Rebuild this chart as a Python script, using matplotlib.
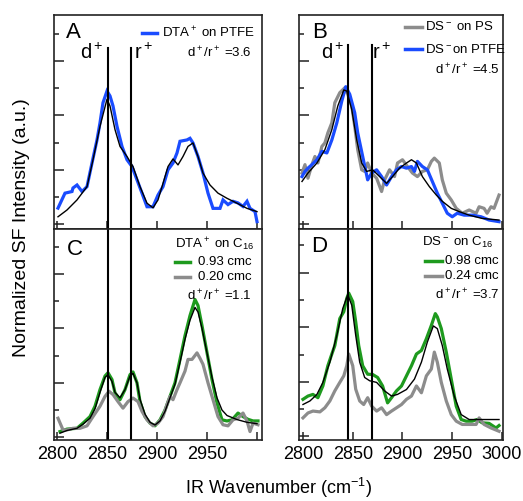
import matplotlib
matplotlib.use("Agg")
import matplotlib.pyplot as plt
from matplotlib.ticker import MultipleLocator

plt.rcParams['font.family'] = ['Liberation Sans', 'DejaVu Sans']
plt.rcParams['mathtext.fontset'] = 'custom'
plt.rcParams['mathtext.rm'] = 'Liberation Sans'
plt.rcParams['mathtext.it'] = 'Liberation Sans:italic'
plt.rcParams['mathtext.bf'] = 'Liberation Sans:bold'

NARROW = ['Liberation Sans Narrow', 'Liberation Sans', 'DejaVu Sans']

# ---------------- Panel A: DTA+ on PTFE ----------------
a_blue_x = [2801, 2808, 2815, 2816, 2820, 2825, 2830, 2835, 2840, 2843, 2846, 2850, 2853, 2856, 2860,
            2865, 2870, 2875, 2880, 2885, 2890, 2896, 2901, 2906, 2911, 2916, 2920, 2923, 2930, 2933,
            2936, 2941, 2946, 2951, 2956, 2963, 2966, 2971, 2976, 2981, 2986, 2990, 2993, 2998, 3000]
a_blue_y = [0.59, 1.14, 1.2, 1.33, 1.44, 1.2, 1.38, 2.25, 3.1, 3.73, 4.47, 4.9, 4.72, 4.35, 3.6,
            2.86, 2.37, 2.12, 1.63, 1.14, 0.64, 0.64, 1.07, 1.38, 2.0, 2.25, 2.62, 3.05, 3.1, 3.16,
            2.99, 2.49, 1.88, 1.14, 0.58, 0.58, 0.89, 0.72, 0.84, 0.78, 0.65, 0.84, 0.58, 0.46, 0.09]
a_fit_x = [2801, 2810, 2820, 2830, 2836, 2843, 2850, 2853, 2858, 2863, 2870, 2876, 2883, 2890, 2896,
           2901, 2906, 2911, 2916, 2921, 2926, 2931, 2936, 2941, 2946, 2953, 2961, 2970, 2980, 2990, 3000]
a_fit_y = [0.27, 0.52, 0.89, 1.38, 2.37, 3.6, 4.6, 4.35, 3.48, 2.86, 2.49, 2.12, 1.38, 0.77, 0.6,
           0.89, 1.5, 2.12, 2.4, 2.18, 2.49, 2.86, 2.99, 2.49, 1.88, 1.44, 1.14, 0.95, 0.77, 0.58, 0.46]

# ---------------- Panel B: DS- on PS / PTFE ----------------
b_blue_x = [2799, 2802, 2805, 2809, 2814, 2819, 2824, 2829, 2834, 2839, 2843, 2847, 2852, 2855, 2860,
            2865, 2869, 2874, 2879, 2884, 2889, 2894, 2899, 2904, 2909, 2912, 2915, 2920, 2925, 2930,
            2935, 2940, 2945, 2950, 2955, 2962, 2970, 2979, 2987, 2997]
b_blue_y = [1.75, 1.94, 2.06, 2.19, 2.37, 2.68, 2.62, 3.1, 3.73, 4.53, 5.06, 4.78, 4.1, 3.36, 2.49,
            1.63, 1.88, 2.0, 1.75, 1.44, 1.75, 2.0, 2.12, 2.06, 2.12, 1.94, 2.31, 2.12, 2.0, 1.57,
            1.14, 0.77, 0.4, 0.27, 0.4, 0.33, 0.33, 0.27, 0.15, 0.09]
b_gray_x = [2799, 2802, 2805, 2809, 2812, 2815, 2819, 2822, 2825, 2829, 2832, 2837, 2842, 2845, 2849,
            2852, 2855, 2859, 2862, 2865, 2869, 2874, 2879, 2882, 2887, 2892, 2895, 2900, 2905, 2910,
            2915, 2920, 2925, 2929, 2932, 2937, 2940, 2944, 2949, 2954, 2960, 2967, 2974, 2977, 2982,
            2985, 2989, 2992, 2997]
b_gray_y = [1.88, 2.19, 1.69, 2.19, 2.49, 2.25, 2.86, 2.99, 3.36, 3.73, 4.47, 4.84, 5.02, 4.78, 4.35,
            3.6, 2.74, 2.0, 1.94, 2.25, 1.88, 1.69, 1.2, 1.63, 2.0, 1.75, 2.25, 2.37, 2.12, 1.88,
            1.75, 1.94, 2.0, 2.31, 2.43, 2.25, 1.63, 1.14, 0.89, 0.58, 0.4, 0.52, 0.4, 0.64, 0.58,
            0.4, 0.64, 0.58, 1.07]
b_fit_x = [2799, 2805, 2814, 2822, 2829, 2835, 2841, 2844, 2849, 2854, 2859, 2864, 2870, 2877, 2884,
           2890, 2897, 2904, 2909, 2914, 2920, 2927, 2934, 2940, 2949, 2957, 2967, 2980, 2997]
b_fit_y = [1.57, 1.88, 2.25, 2.74, 3.48, 4.35, 4.94, 4.9, 4.22, 3.1, 2.25, 1.94, 2.0, 1.75, 1.5,
           1.75, 2.06, 2.25, 2.37, 2.25, 1.75, 1.38, 1.07, 0.84, 0.58, 0.46, 0.33, 0.21, 0.15]

# ---------------- Panel C: DTA+ on C16 ----------------
c_green_x = [2803, 2810, 2820, 2826, 2833, 2838, 2843, 2848, 2851, 2855, 2858, 2863, 2868, 2873, 2876,
             2880, 2883, 2888, 2893, 2898, 2903, 2908, 2913, 2918, 2923, 2928, 2933, 2938, 2941, 2945,
             2950, 2955, 2960, 2965, 2970, 2975, 2981, 2986, 2991, 2996, 3001]
c_green_y = [0.21, 0.3, 0.33, 0.52, 0.76, 1.14, 1.75, 2.25, 2.37, 2.12, 1.63, 1.38, 1.75, 2.3, 2.4,
             2.0, 1.31, 0.76, 0.52, 0.42, 0.64, 1.0, 1.5, 2.0, 2.86, 3.73, 4.47, 5.06, 4.84, 4.1,
             3.11, 2.12, 1.26, 0.64, 0.6, 0.64, 0.89, 0.76, 0.66, 0.6, 0.6]
c_gray_x = [2801, 2806, 2810, 2816, 2823, 2830, 2836, 2843, 2848, 2852, 2856, 2861, 2866, 2871, 2876,
            2881, 2885, 2890, 2896, 2901, 2906, 2910, 2913, 2916, 2920, 2923, 2928, 2931, 2935, 2940,
            2943, 2946, 2951, 2956, 2961, 2966, 2971, 2976, 2981, 2986, 2990, 2993, 2996, 3001]
c_gray_y = [0.7, 0.27, 0.27, 0.33, 0.33, 0.42, 0.76, 1.14, 1.5, 1.69, 1.57, 1.31, 1.07, 1.31, 1.44,
            1.31, 0.95, 0.64, 0.42, 0.52, 0.76, 1.2, 1.5, 1.38, 1.75, 2.0, 2.43, 2.86, 2.86, 3.1,
            2.9, 2.68, 2.0, 1.38, 0.76, 0.46, 0.42, 0.64, 0.7, 0.89, 0.6, 0.21, 0.52, 0.46]
c_fit_x = [2803, 2810, 2820, 2826, 2833, 2838, 2843, 2848, 2851, 2855, 2858, 2863, 2868, 2873, 2876,
           2880, 2883, 2888, 2893, 2898, 2903, 2908, 2913, 2918, 2923, 2928, 2933, 2938, 2941, 2945,
           2950, 2955, 2960, 2965, 2970, 2980, 2990, 3000]
c_fit_y = [0.15, 0.25, 0.33, 0.48, 0.7, 1.05, 1.65, 2.2, 2.3, 2.05, 1.65, 1.45, 1.75, 2.25, 2.35,
           2.0, 1.4, 0.85, 0.55, 0.45, 0.6, 0.95, 1.45, 1.95, 2.75, 3.6, 4.3, 4.77, 4.6, 4.0,
           3.1, 2.2, 1.45, 1.0, 0.8, 0.65, 0.55, 0.5]

# ---------------- Panel D: DS- on C16 ----------------
d_green_x = [2800, 2805, 2810, 2815, 2820, 2825, 2829, 2832, 2837, 2841, 2844, 2846, 2850, 2853, 2856,
             2860, 2865, 2870, 2875, 2880, 2885, 2889, 2894, 2899, 2904, 2909, 2914, 2919, 2924, 2929,
             2933, 2935, 2939, 2944, 2949, 2954, 2959, 2964, 2970, 2975, 2980, 2987, 2994, 2997]
d_green_y = [1.36, 1.48, 1.54, 1.42, 1.85, 2.59, 3.02, 3.33, 4.32, 4.57, 5.06, 5.25, 4.94, 4.2, 3.33,
             2.59, 2.28, 2.27, 2.16, 1.85, 1.23, 1.42, 1.67, 1.85, 2.22, 2.59, 3.02, 3.15, 3.58, 4.07,
             4.5, 4.38, 3.95, 3.09, 2.1, 1.11, 0.62, 0.56, 0.56, 0.62, 0.5, 0.48, 0.31, 0.4]
d_gray_x = [2800, 2805, 2810, 2817, 2822, 2827, 2832, 2837, 2841, 2844, 2846, 2850, 2853, 2857, 2861,
            2865, 2869, 2874, 2879, 2884, 2889, 2894, 2899, 2904, 2909, 2914, 2919, 2924, 2929, 2932,
            2935, 2939, 2944, 2949, 2954, 2960, 2967, 2974, 2977, 2982, 2989, 2997]
d_gray_y = [0.68, 0.86, 0.93, 0.9, 1.05, 1.3, 1.67, 1.98, 2.22, 2.59, 3.02, 2.59, 1.73, 1.3, 1.17,
            1.42, 1.11, 0.93, 1.05, 0.8, 0.93, 1.05, 1.17, 1.36, 1.48, 1.85, 1.6, 2.22, 2.47, 3.09,
            2.72, 1.98, 1.3, 0.8, 0.56, 0.44, 0.44, 0.44, 0.68, 0.44, 0.31, 0.19]
d_fit_x = [2800, 2807, 2814, 2820, 2827, 2834, 2840, 2845, 2849, 2853, 2857, 2862, 2867, 2874, 2882,
           2889, 2895, 2904, 2912, 2919, 2925, 2931, 2935, 2940, 2945, 2952, 2959, 2967, 2980, 2997]
d_fit_y = [1.17, 1.3, 1.54, 1.98, 2.72, 3.7, 4.69, 5.19, 4.81, 3.7, 2.72, 2.16, 2.04, 1.98, 1.67,
           1.48, 1.54, 1.72, 2.1, 2.72, 3.46, 4.05, 3.95, 3.33, 2.47, 1.48, 0.8, 0.62, 0.62, 0.62]

# peak markers (d+, r+)
ac_lines = [2851, 2874]
bd_lines = [2845, 2869]

xticks = [2800, 2850, 2900, 2950, 3000]
xticklabels_left = ['2800', '2850', '2900', '2950', '']
xticklabels_right = ['2800', '2850', '2900', '2950', '3000']

BLUE = '#1a4cff'
GREEN = '#1e9a1e'
GRAY = '#8c8c8c'

fig = plt.figure(figsize=(5.23, 5.01), dpi=100)
W, H = 523.0, 501.0


def make_ax(l, t, r, b):
    return fig.add_axes([l / W, 1 - b / H, (r - l) / W, (b - t) / H])


axA = make_ax(54, 15, 262, 229)
axB = make_ax(299, 15, 503, 229)
axC = make_ax(54, 229, 262, 440)
axD = make_ax(299, 229, 503, 440)

for ax in (axA, axB, axC, axD):
    for s in ax.spines.values():
        s.set_linewidth(1.2)
        s.set_color('#222222')
    ax.set_xticks(xticks)
    ax.yaxis.set_major_locator(MultipleLocator(2))
    ax.yaxis.set_minor_locator(MultipleLocator(1))
    ax.tick_params(axis='x', which='major', direction='in', length=6, width=1.1,
                   labelsize=13, pad=4, colors='#222222', labelcolor='black')
    ax.tick_params(axis='y', which='major', direction='in', length=7.5, width=1.1, labelleft=False,
                   colors='#222222')
    ax.tick_params(axis='y', which='minor', direction='in', length=3.8, width=1.1, colors='#222222')
    ax.tick_params(axis='x', which='minor', bottom=False)

axA.set_xlim(2797, 3005)
axC.set_xlim(2797, 3005)
axB.set_xlim(2796, 3001)
axD.set_xlim(2796, 3001)
axA.set_ylim(-0.18, 7.7)
axB.set_ylim(-0.18, 7.7)
axC.set_ylim(-0.1, 7.65)
axD.set_ylim(-0.13, 7.6)

axA.set_xticklabels([])
axB.set_xticklabels([])
axC.set_xticklabels(xticklabels_left)
axD.set_xticklabels(xticklabels_right)
for ax in (axC, axD):
    for lab in ax.get_xticklabels():
        lab.set_family(NARROW)

# data
axA.plot(a_blue_x, a_blue_y, color=BLUE, lw=2.3, solid_joinstyle='miter')
axA.plot(a_fit_x, a_fit_y, color='black', lw=1.0)

axB.plot(b_gray_x, b_gray_y, color=GRAY, lw=2.3)
axB.plot(b_blue_x, b_blue_y, color=BLUE, lw=2.3)
axB.plot(b_fit_x, b_fit_y, color='black', lw=1.0)

axC.plot(c_green_x, c_green_y, color=GREEN, lw=2.3)
axC.plot(c_gray_x, c_gray_y, color=GRAY, lw=2.3)
axC.plot(c_fit_x, c_fit_y, color='black', lw=1.0)

axD.plot(d_green_x, d_green_y, color=GREEN, lw=2.3)
axD.plot(d_gray_x, d_gray_y, color=GRAY, lw=2.3)
axD.plot(d_fit_x, d_fit_y, color='black', lw=1.0)

# vertical reference lines
for xv in ac_lines:
    axA.plot([xv, xv], [-0.18, 6.5], color='black', lw=1.5)
    axC.axvline(xv, color='black', lw=1.5)
for xv in bd_lines:
    axB.plot([xv, xv], [-0.18, 6.6], color='black', lw=1.5)
    axD.axvline(xv, color='black', lw=1.5)

# d+ / r+ labels
axA.text(2835, 6.3, 'd$^+$', fontsize=14.5, ha='center', va='center')
axA.text(2886, 6.3, 'r$^+$', fontsize=14.5, ha='center', va='center')
axB.text(2830, 6.3, 'd$^+$', fontsize=14.5, ha='center', va='center')
axB.text(2879, 6.3, 'r$^+$', fontsize=14.5, ha='center', va='center')

# panel letters
for ax, letter, xf, yf in ((axA, 'A', 0.091, 0.916), (axB, 'B', 0.103, 0.92),
                           (axC, 'C', 0.10, 0.905), (axD, 'D', 0.10, 0.915)):
    ax.text(xf, yf, letter, transform=ax.transAxes, fontsize=16, ha='center', va='center')

LFS = 9.5


def handle(ax, x0, x1, y, color):
    ax.plot([x0, x1], [y, y], transform=ax.transAxes, color=color, lw=2.5, clip_on=False)


# Panel A legend
handle(axA, 0.423, 0.495, 0.916, BLUE)
axA.text(0.519, 0.916, 'DTA$^+$ on PTFE', transform=axA.transAxes, fontsize=LFS, va='center', ha='left')
axA.text(0.952, 0.822, 'd$^+$/r$^+$ =3.6', transform=axA.transAxes, fontsize=LFS, va='center', ha='right')

# Panel B legend
handle(axB, 0.52, 0.603, 0.944, GRAY)
axB.text(0.618, 0.944, 'DS$^-$ on PS', transform=axB.transAxes, fontsize=LFS, va='center', ha='left')
handle(axB, 0.52, 0.603, 0.841, BLUE)
axB.text(0.618, 0.841, 'DS$^-$on PTFE', transform=axB.transAxes, fontsize=LFS, va='center', ha='left')
axB.text(0.985, 0.743, 'd$^+$/r$^+$ =4.5', transform=axB.transAxes, fontsize=LFS, va='center', ha='right')

# Panel C legend
axC.text(0.582, 0.929, 'DTA$^+$ on C$_{16}$', transform=axC.transAxes, fontsize=LFS, va='center', ha='left')
handle(axC, 0.582, 0.654, 0.845, GREEN)
axC.text(0.692, 0.845, '0.93 cmc', transform=axC.transAxes, fontsize=LFS, va='center', ha='left')
handle(axC, 0.582, 0.654, 0.774, GRAY)
axC.text(0.692, 0.774, '0.20 cmc', transform=axC.transAxes, fontsize=LFS, va='center', ha='left')
axC.text(0.952, 0.684, 'd$^+$/r$^+$ =1.1', transform=axC.transAxes, fontsize=LFS, va='center', ha='right')

# Panel D legend
axD.text(0.601, 0.935, 'DS$^-$ on C$_{16}$', transform=axD.transAxes, fontsize=LFS, va='center', ha='left')
handle(axD, 0.618, 0.70, 0.849, GREEN)
axD.text(0.716, 0.849, '0.98 cmc', transform=axD.transAxes, fontsize=LFS, va='center', ha='left')
handle(axD, 0.618, 0.70, 0.777, GRAY)
axD.text(0.716, 0.777, '0.24 cmc', transform=axD.transAxes, fontsize=LFS, va='center', ha='left')
axD.text(0.985, 0.689, 'd$^+$/r$^+$ =3.7', transform=axD.transAxes, fontsize=LFS, va='center', ha='right')

# axis labels
fig.text(278 / W, 1 - 488 / H, 'IR Wavenumber (cm$^{-1}$)', fontsize=13, ha='center', va='center',
         family=NARROW)
fig.text(22 / W, 1 - 227.5 / H, 'Normalized SF Intensity (a.u.)', fontsize=14, ha='center', va='center',
         rotation=90, family=NARROW)

fig.savefig('out.png', dpi=100)
